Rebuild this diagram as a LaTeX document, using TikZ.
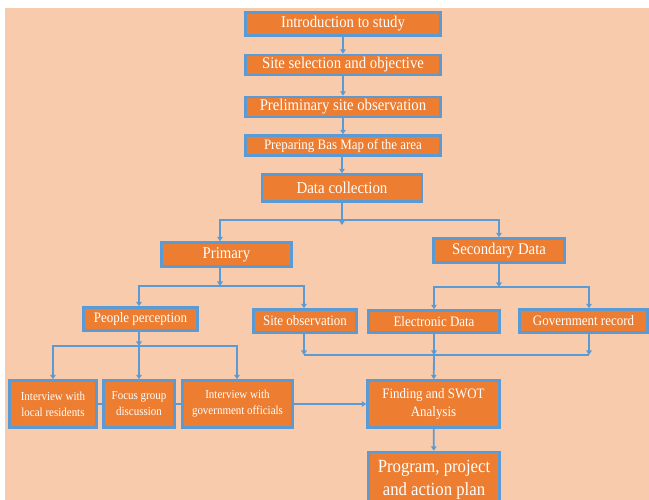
\documentclass[tikz,border=0pt]{standalone}
\usepackage{fontspec}
\setmainfont[FakeStretch=0.9]{Liberation Serif}
\usepackage{tikz}
\usetikzlibrary{arrows.meta, positioning}
\usepackage{xcolor}
\definecolor{peach}{HTML}{F8CBAD}
\definecolor{boxorange}{HTML}{ED7D31}
\definecolor{lineblue}{HTML}{5B9BD5}

\begin{document}
\begin{tikzpicture}[x=1pt, y=-1pt,
  box/.style={draw=lineblue, line width=2.4pt, fill=boxorange, text=white,
    inner sep=0pt, align=center},
  fs/.style={font=\fontsize{#1}{#1}\selectfont},
  line/.style={draw=lineblue, line width=1.8pt},
  arr/.style={line, -{Triangle[length=4.5pt, width=5.5pt]}}
]
  \clip (0,0) rectangle (649,500);
  \fill[white] (0,0) rectangle (649,500);
  \fill[peach] (5,8) rectangle (649,500);

  % main column
  \node[box, fs=16.4, minimum width=195pt, minimum height=23pt] (intro)   at (343,24)    {Introduction to study};
  \node[box, fs=16.4, minimum width=195pt, minimum height=20pt] (sitesel) at (343,65)    {Site selection and objective};
  \node[box, fs=16.4, minimum width=195pt, minimum height=20pt] (prelim)  at (343,107)   {Preliminary site observation};
  \node[box, fs=14.4, minimum width=195pt, minimum height=20pt] (basemap) at (343,145.5) {Preparing Bas Map of the area};
  \node[box, fs=16.6, minimum width=160pt, minimum height=27pt] (datacol) at (342,188)   {Data collection};

  % data types
  \node[box, fs=16.4, minimum width=130pt, minimum height=24pt] (primary)   at (226.5,254.5) {Primary};
  \node[box, fs=16.4, minimum width=131pt, minimum height=24pt] (secondary) at (499,250.5)   {Secondary Data};

  \node[box, fs=14.4, minimum width=114pt, minimum height=23pt] (people)     at (140.5,319)  {People perception};
  \node[box, fs=14.4, minimum width=103pt, minimum height=23pt] (siteobs)    at (305,321)    {Site observation};
  \node[box, fs=14.4, minimum width=131pt, minimum height=22pt] (electronic) at (434,321.5)  {Electronic Data};
  \node[box, fs=14.4, minimum width=128pt, minimum height=23pt] (govrec)     at (583.5,321)  {Government record};

  % interviews
  \node[box, font=\fontsize{12.2}{16}\selectfont, minimum width=87pt,  minimum height=47pt] (intlocal) at (53,404)    {Interview with\\local residents};
  \node[box, font=\fontsize{12.2}{16}\selectfont, minimum width=71pt,  minimum height=47pt] (focus)    at (139,404)   {Focus group\\discussion};
  \node[box, font=\fontsize{12.2}{16}\selectfont, minimum width=110pt, minimum height=47pt] (intgov)   at (237.5,404) {Interview with\\government officials};

  \node[box, font=\fontsize{14.4}{18}\selectfont, minimum width=132pt, minimum height=47pt] (finding) at (433.5,404) {Finding and SWOT\\Analysis};
  \node[box, font=\fontsize{18.6}{23}\selectfont, minimum width=131pt, minimum height=56pt] (program) at (434,480)   {Program, project\\and action plan};

  % bus points
  \coordinate (b1) at (342,220);
  \coordinate (b2) at (220,286);
  \coordinate (b3) at (499,287);
  \coordinate (b4) at (139,346);
  \coordinate (b5) at (434,355);
  \coordinate (m1) at (304,355);
  \coordinate (m3) at (589,355);

  \draw[arr] (intro) -- (sitesel);
  \draw[arr] (sitesel) -- (prelim);
  \draw[arr] (prelim) -- (basemap);
  \draw[arr] (basemap.south -| datacol) -- (datacol);

  \draw[arr] (datacol) -- ([yshift=-5pt]b1);
  \draw[arr] (b1) -| (primary.north -| b2);
  \draw[arr] (b1) -| (secondary.north);

  \draw[arr] (primary.south -| b2) -- (b2);
  \draw[arr] (b2) -| (people.north -| b4);
  \draw[arr] (b2) -| (siteobs.north -| m1);

  \draw[arr] (secondary) -- (b3);
  \draw[arr] (b3) -| (electronic.north);
  \draw[arr] (b3) -| (govrec.north -| m3);

  \draw[arr] (people.south -| b4) -- (b4);
  \draw[arr] (b4) -| (intlocal.north);
  \draw[arr] (b4) -- (focus.north);
  \draw[arr] (b4) -| ([xshift=-0.5pt]intgov.north);

  \draw[line] (m1) -- (m3);
  \draw[arr] (siteobs.south -| m1) -- (m1);
  \draw[arr] (electronic) -- (b5);
  \draw[arr] (govrec.south -| m3) -- (m3);
  \draw[arr] (b5) -- (finding);

  \draw[line] (intlocal) -- (focus);
  \draw[line] (focus) -- (intgov);
  \draw[arr] (intgov) -- (finding);
  \draw[arr] (finding) -- (program);
\end{tikzpicture}
\end{document}
